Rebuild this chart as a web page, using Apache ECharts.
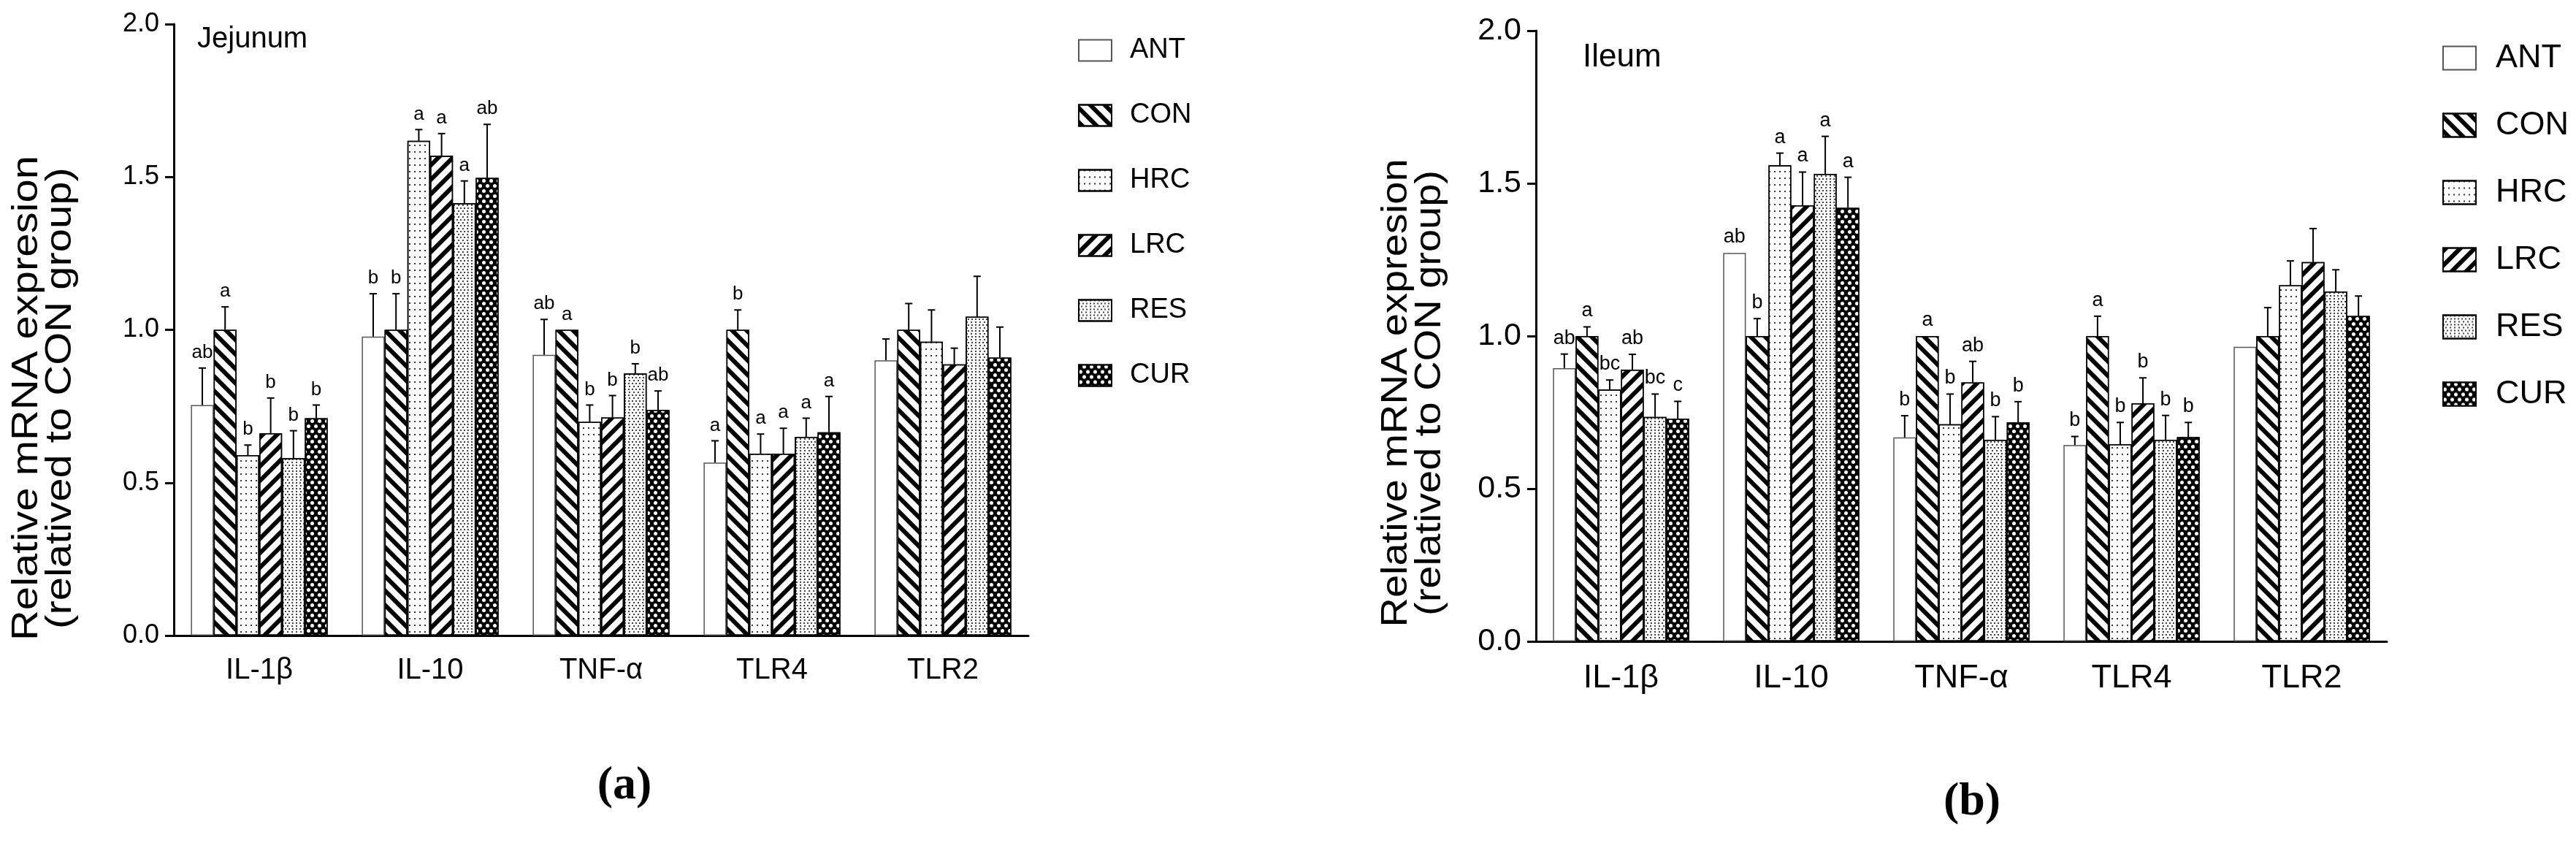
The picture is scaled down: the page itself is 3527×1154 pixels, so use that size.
<!DOCTYPE html>
<html><head><meta charset="utf-8">
<script src="https://cdn.jsdelivr.net/npm/echarts@6/dist/echarts.min.js"></script>
<style>html,body{margin:0;padding:0;background:#fff}#c{width:3527px;height:1154px}</style>
</head><body><div id="c"></div>
<script>
// ---------- DATA ----------
const categories = ['IL-1β', 'IL-10', 'TNF-α', 'TLR4', 'TLR2'];
const groups = ['ANT', 'CON', 'HRC', 'LRC', 'RES', 'CUR'];
const yTicks = [0, 0.5, 1.0, 1.5, 2.0];

// Jejunum (a): means
const jejANT = [0.754, 0.978, 0.918, 0.566, 0.900];
const jejCON = [1.000, 1.000, 1.000, 1.000, 1.000];
const jejHRC = [0.590, 1.618, 0.699, 0.595, 0.961];
const jejLRC = [0.662, 1.569, 0.713, 0.595, 0.887];
const jejRES = [0.580, 1.414, 0.857, 0.650, 1.043];
const jejCUR = [0.711, 1.497, 0.738, 0.665, 0.909];
// Jejunum (a): upper error (SEM)
const jejANTerr = [0.121, 0.140, 0.116, 0.071, 0.070];
const jejCONerr = [0.075, 0.118, 0.000, 0.065, 0.086];
const jejHRCerr = [0.033, 0.037, 0.055, 0.064, 0.104];
const jejLRCerr = [0.115, 0.073, 0.072, 0.083, 0.053];
const jejRESerr = [0.090, 0.073, 0.032, 0.061, 0.132];
const jejCURerr = [0.043, 0.175, 0.062, 0.117, 0.100];
// Jejunum (a): significance letters
const jejANTsig = ['ab', 'b', 'ab', 'a', ''];
const jejCONsig = ['a', 'b', 'a', 'b', ''];
const jejHRCsig = ['b', 'a', 'b', 'a', ''];
const jejLRCsig = ['b', 'a', 'b', 'a', ''];
const jejRESsig = ['b', 'a', 'b', 'a', ''];
const jejCURsig = ['b', 'ab', 'ab', 'a', ''];

// Ileum (b): means
const ileANT = [0.895, 1.272, 0.668, 0.643, 0.965];
const ileCON = [1.000, 1.000, 1.000, 1.000, 1.000];
const ileHRC = [0.825, 1.559, 0.711, 0.646, 1.166];
const ileLRC = [0.890, 1.428, 0.848, 0.780, 1.242];
const ileRES = [0.735, 1.531, 0.660, 0.660, 1.146];
const ileCUR = [0.729, 1.420, 0.717, 0.669, 1.066];
// Ileum (b): upper error (SEM)
const ileANTerr = [0.046, 0.000, 0.071, 0.028, 0.000];
const ileCONerr = [0.030, 0.057, 0.000, 0.065, 0.093];
const ileHRCerr = [0.031, 0.040, 0.099, 0.071, 0.080];
const ileLRCerr = [0.050, 0.109, 0.069, 0.083, 0.110];
const ileRESerr = [0.075, 0.123, 0.076, 0.080, 0.071];
const ileCURerr = [0.057, 0.100, 0.068, 0.048, 0.065];
// Ileum (b): significance letters
const ileANTsig = ['ab', 'ab', 'b', 'b', ''];
const ileCONsig = ['a', 'b', 'a', 'a', ''];
const ileHRCsig = ['bc', 'a', 'b', 'b', ''];
const ileLRCsig = ['ab', 'a', 'ab', 'b', ''];
const ileRESsig = ['bc', 'a', 'b', 'b', ''];
const ileCURsig = ['c', 'a', 'b', 'b', ''];

const jejMeans = [jejANT, jejCON, jejHRC, jejLRC, jejRES, jejCUR];
const jejErrs = [jejANTerr, jejCONerr, jejHRCerr, jejLRCerr, jejRESerr, jejCURerr];
const jejSigs = [jejANTsig, jejCONsig, jejHRCsig, jejLRCsig, jejRESsig, jejCURsig];
const ileMeans = [ileANT, ileCON, ileHRC, ileLRC, ileRES, ileCUR];
const ileErrs = [ileANTerr, ileCONerr, ileHRCerr, ileLRCerr, ileRESerr, ileCURerr];
const ileSigs = [ileANTsig, ileCONsig, ileHRCsig, ileLRCsig, ileRESsig, ileCURsig];

// ---------- STYLE ----------
const FONT = '"Liberation Sans", Arial, sans-serif';
const CAT_GAP = 0.2;
const patterns = {
  ANT: { color: '#fff', border: '#555', decal: null },
  CON: { color: '#fff', border: '#000', decal: { symbol: 'rect', symbolSize: 1, color: '#000', dashArrayX: [1, 0], dashArrayY: [6, 8], rotation: Math.PI / 4 } },
  HRC: { color: '#fff', border: '#000', decal: { symbol: 'rect', symbolSize: 1, color: '#333', dashArrayX: [2, 5], dashArrayY: [2, 7], rotation: 0 } },
  LRC: { color: '#fff', border: '#000', decal: { symbol: 'rect', symbolSize: 1, color: '#000', dashArrayX: [1, 0], dashArrayY: [6, 8], rotation: -Math.PI / 4 } },
  RES: { color: '#fff', border: '#000', decal: { symbol: 'rect', symbolSize: 1, color: '#444', dashArrayX: [[2, 3], [0, 2.5, 2, 0.5]], dashArrayY: [2, 1.5], rotation: 0 } },
  CUR: { color: '#000', border: '#000', decal: { symbol: 'circle', symbolSize: 1, color: '#fff', dashArrayX: [[5, 5], [0, 5, 5, 0]], dashArrayY: [5, 2], rotation: 0 } }
};

const panels = [
  { means: jejMeans, errs: jejErrs, sigs: jejSigs, tick: 36, cat: 40, letter: 26 },
  { means: ileMeans, errs: ileErrs, sigs: ileSigs, tick: 43, cat: 45, letter: 27 }
];

const series = [];
panels.forEach((p, pi) => {
  groups.forEach((g, gi) => {
    const st = patterns[g];
    const itemStyle = { color: st.color, borderColor: st.border, borderWidth: 1.5 };
    if (st.decal) itemStyle.decal = st.decal;
    series.push({
      name: g, type: 'bar', xAxisIndex: pi, yAxisIndex: pi,
      data: p.means[gi],
      barGap: '0%', barCategoryGap: (CAT_GAP * 100) + '%',
      itemStyle,
      emphasis: { disabled: true }, animation: false
    });
  });
  const items = [];
  groups.forEach((g, gi) => {
    categories.forEach((c, ci) => {
      items.push({ ci, gi, v: p.means[gi][ci], top: p.means[gi][ci] + p.errs[gi][ci], sig: p.sigs[gi][ci] });
    });
  });
  series.push({
    name: 'err' + pi, type: 'custom', xAxisIndex: pi, yAxisIndex: pi, z: 5, silent: true, animation: false,
    clip: false,
    data: items.map(d => [d.ci, d.top]),
    renderItem: function (params, api) {
      const d = items[params.dataIndex];
      const bw = api.size([1, 0])[0];
      const groupW = bw * (1 - CAT_GAP);
      const barW = groupW / groups.length;
      const c = api.coord([d.ci, 0]);
      const x = c[0] - groupW / 2 + barW * (d.gi + 0.5);
      const yv = api.coord([d.ci, d.v])[1];
      const yt = api.coord([d.ci, d.top])[1];
      const children = [];
      if (d.top > d.v + 0.001) {
        children.push({ type: 'line', shape: { x1: x, y1: yv, x2: x, y2: yt }, style: { stroke: '#000', lineWidth: 2 } });
        children.push({ type: 'line', shape: { x1: x - 5, y1: yt, x2: x + 5, y2: yt }, style: { stroke: '#000', lineWidth: 2 } });
      }
      if (d.sig) {
        children.push({ type: 'text', x: x, y: yt - 8, style: { text: d.sig, fontSize: p.letter, fontFamily: FONT, fill: '#000', align: 'center', verticalAlign: 'bottom' } });
      }
      return { type: 'group', children };
    }
  });
});

function xAxisOf(i, p) {
  return {
    type: 'category', gridIndex: i, data: categories,
    axisLine: { lineStyle: { color: '#000', width: 3 } },
    axisTick: { alignWithLabel: true, length: 12, lineStyle: { color: '#000', width: 3 } },
    axisLabel: { color: '#000', fontSize: p.cat, fontFamily: FONT, margin: 28 }
  };
}
function yAxisOf(i, p) {
  return {
    type: 'value', gridIndex: i, min: yTicks[0], max: yTicks[yTicks.length - 1], interval: yTicks[1] - yTicks[0],
    axisLine: { show: true, lineStyle: { color: '#000', width: 3 } },
    axisTick: { show: true, length: 12, lineStyle: { color: '#000', width: 3 } },
    splitLine: { show: false },
    axisLabel: { color: '#000', fontSize: p.tick, fontFamily: FONT, margin: 20, formatter: v => v.toFixed(1) }
  };
}

const chart = echarts.init(document.getElementById('c'), null, { renderer: 'canvas' });
chart.setOption({
  backgroundColor: '#fff',
  animation: false,
  grid: [
    { left: 238, top: 33, width: 1170, height: 837 },
    { left: 2103, top: 42, width: 1165, height: 836 }
  ],
  xAxis: [xAxisOf(0, panels[0]), xAxisOf(1, panels[1])],
  yAxis: [yAxisOf(0, panels[0]), yAxisOf(1, panels[1])],
  legend: [
    { data: groups, orient: 'vertical', left: 1471, top: 45, icon: 'rect', itemWidth: 45, itemHeight: 29, itemGap: 51,
      selectedMode: false, textStyle: { fontSize: 38, fontFamily: FONT, color: '#000', padding: [0, 0, 0, 20] } },
    { data: groups, orient: 'vertical', left: 3339, top: 52, icon: 'rect', itemWidth: 45, itemHeight: 32, itemGap: 47,
      selectedMode: false, textStyle: { fontSize: 45, fontFamily: FONT, color: '#000', padding: [0, 0, 0, 22] } }
  ],
  graphic: [
    { type: 'text', x: 60, y: 545, rotation: Math.PI / 2, scaleX: 1.16,
      style: { text: 'Relative mRNA expresion\n(relatived to CON group)', fontSize: 50, lineHeight: 46, fontFamily: FONT, fill: '#000', align: 'center', verticalAlign: 'middle' } },
    { type: 'text', x: 1935, y: 538, rotation: Math.PI / 2, scaleX: 1.12,
      style: { text: 'Relative mRNA expresion\n(relatived to CON group)', fontSize: 50, lineHeight: 46, fontFamily: FONT, fill: '#000', align: 'center', verticalAlign: 'middle' } },
    { type: 'text', x: 270, y: 54, style: { text: 'Jejunum', fontSize: 40, fontFamily: FONT, fill: '#000', align: 'left', verticalAlign: 'middle' } },
    { type: 'text', x: 2167, y: 79, style: { text: 'Ileum', fontSize: 44, fontFamily: FONT, fill: '#000', align: 'left', verticalAlign: 'middle' } },
    { type: 'text', x: 855, y: 1076, style: { text: '(a)', fontSize: 64, fontWeight: 'bold', fontFamily: '"Liberation Serif", "DejaVu Serif", serif', fill: '#000', align: 'center', verticalAlign: 'middle' } },
    { type: 'text', x: 2700, y: 1098, style: { text: '(b)', fontSize: 64, fontWeight: 'bold', fontFamily: '"Liberation Serif", "DejaVu Serif", serif', fill: '#000', align: 'center', verticalAlign: 'middle' } }
  ],
  series
});
</script>
</body></html>
